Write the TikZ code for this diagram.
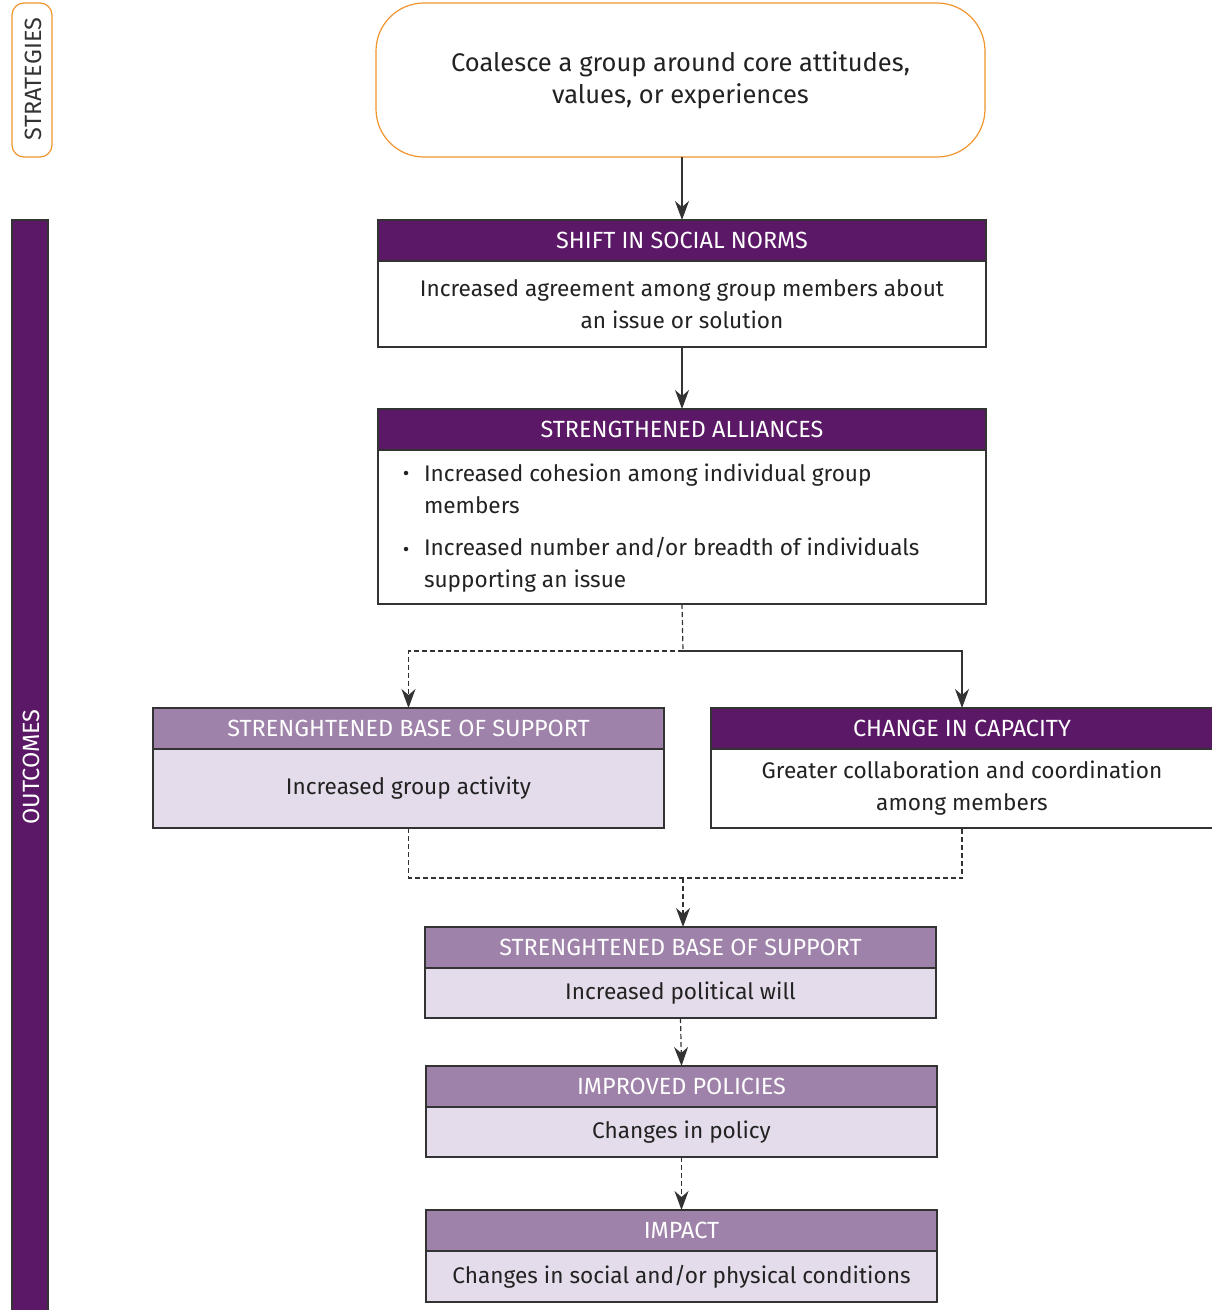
\documentclass[tikz,border=0pt]{standalone}
\usepackage{fontspec}
\setmainfont{Fira Sans}
\usetikzlibrary{arrows.meta}
\definecolor{dpurple}{HTML}{5B1866}
\definecolor{mpurple}{HTML}{9E82AA}
\definecolor{lpurple}{HTML}{E4DCEA}
\definecolor{orng}{HTML}{F0952D}
\definecolor{linec}{HTML}{333333}
\definecolor{txt}{HTML}{222222}
\newcommand{\hfont}{\fontsize{23.4}{28}\selectfont}
\newcommand{\bfont}{\fontsize{22.6}{32}\selectfont}
\newcommand{\tfont}{\fontsize{25.5}{32}\selectfont}
\begin{document}
\begin{tikzpicture}[x=1pt,y=-1pt,
  every node/.style={outer sep=0pt, inner sep=0pt},
  hdr/.style={draw=linec, line width=1.2pt, minimum height=41pt, text=white, font=\hfont},
  hdrdark/.style={hdr, fill=dpurple},
  hdrlight/.style={hdr, fill=mpurple},
  bodyw/.style={draw=linec, line width=1.2pt, fill=white, text=txt, font=\bfont, align=center},
  bodyl/.style={draw=linec, line width=1.2pt, fill=lpurple, text=txt, font=\bfont, align=center},
  arr/.style={draw=linec, line width=1.2pt, -{Stealth[length=19pt,width=14pt,inset=6pt]}},
  conn/.style={draw=linec, line width=1.2pt},
  dsh/.style={dash pattern=on 5pt off 3pt},
  bul/.style={circle, fill=txt, minimum size=4.5pt}
]
\useasboundingbox (0,0) rectangle (1211,1310);

% side labels
\node[draw=orng, line width=1.2pt, rounded corners=12pt, minimum width=40pt, minimum height=154pt, fill=white] (strat) at (32,80) {};
\node[rotate=90, text=linec, font=\fontsize{23.5}{26}\selectfont] (strattxt) at (33,79) {STRATEGIES};
\node[draw=linec, line width=1.2pt, fill=dpurple, minimum width=36pt, minimum height=1100pt] (outc) at (30,770) {};
\node[rotate=90, text=white, font=\fontsize{23.5}{26}\selectfont] (outctxt) at (31,767) {OUTCOMES};

% top strategy box
\node[draw=orng, line width=1.2pt, rounded corners=48pt, minimum width=609pt, minimum height=154pt, fill=white, text=txt, font=\tfont, align=center] (top) at (680.5,80) {Coalesce a group around core attitudes,\\values, or experiences};

% shift in social norms
\node[hdrdark, minimum width=608pt] (shifth) at (682,240.5) {SHIFT IN SOCIAL NORMS};
\node[bodyw, minimum width=608pt, minimum height=86pt, anchor=north] (shiftb) at (shifth.south) {Increased agreement among group members about\\an issue or solution};

% strengthened alliances
\node[hdrdark, minimum width=608pt] (allh) at (682,429.5) {STRENGTHENED ALLIANCES};
\node[bodyw, minimum width=608pt, minimum height=154pt, anchor=north] (allb) at (allh.south) {};
\node[bul] (bul1) at (406,473) {};
\node[text=txt, font=\bfont, align=left, anchor=west] (t1) at (424,489) {Increased cohesion among individual group\\members};
\node[bul] (bul2) at (406,549) {};
\node[text=txt, font=\bfont, align=left, anchor=west] (t2) at (424,565) {Increased number and/or breadth of individuals\\supporting an issue};

% left / right boxes
\node[hdrlight, minimum width=511pt] (lefth) at (408.5,728.5) {STRENGHTENED BASE OF SUPPORT};
\node[bodyl, minimum width=511pt, minimum height=79pt, anchor=north] (leftb) at (lefth.south) {Increased group activity};
\node[hdrdark, minimum width=502pt] (righth) at (962,728.5) {CHANGE IN CAPACITY};
\node[bodyw, minimum width=502pt, minimum height=79pt, anchor=north] (rightb) at (righth.south) {Greater collaboration and coordination\\among members};

% lower boxes
\node[hdrlight, minimum width=511pt] (b3h) at (680.5,947.5) {STRENGHTENED BASE OF SUPPORT};
\node[bodyl, minimum width=511pt, minimum height=50pt, anchor=north] (b3b) at (b3h.south) {Increased political will};
\node[hdrlight, minimum width=511pt] (b4h) at (681.5,1086.5) {IMPROVED POLICIES};
\node[bodyl, minimum width=511pt, minimum height=50pt, anchor=north] (b4b) at (b4h.south) {Changes in policy};
\node[hdrlight, minimum width=511pt] (b5h) at (681.5,1230.5) {IMPACT};
\node[bodyl, minimum width=511pt, minimum height=51pt, anchor=north] (b5b) at (b5h.south) {Changes in social and/or physical conditions};

% connectors
\coordinate (j1) at (683,651);
\coordinate (j2) at (683,878);
\draw[arr] (top.south -| shifth.north) -- (shifth.north);
\draw[arr] (shiftb.south) -- (allh.north);
\draw[conn, dsh] (allb.south) -- (j1);
\draw[arr, dsh] (j1) -| (lefth.north);
\draw[arr] (j1) -| (righth.north);
\draw[conn, dsh] (leftb.south) |- (j2) -| (rightb.south);
\draw[arr, dsh] (j2) -- (j2 |- b3h.north);
\draw[arr, dsh] (b3b.south) -- (b4h.north);
\draw[arr, dsh] (b4b.south) -- (b5h.north);
\end{tikzpicture}
\end{document}
